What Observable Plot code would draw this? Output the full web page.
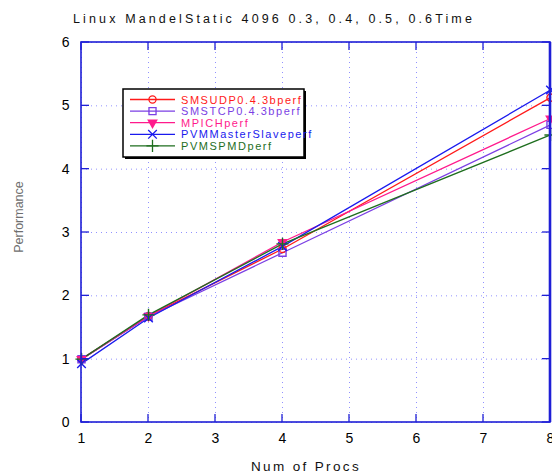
<!DOCTYPE html>
<html>
<head>
<meta charset="utf-8">
<script src="https://cdn.jsdelivr.net/npm/d3@7"></script>
<script src="https://cdn.jsdelivr.net/npm/@observablehq/plot@0.6"></script>
<style>
  html, body { margin: 0; padding: 0; background: #fff; }
  #chart { position: relative; width: 552px; height: 475px; }
</style>
</head>
<body>
<div id="chart"></div>
<script>
const titleText = "Linux MandelStatic 4096 0.3, 0.4, 0.5, 0.6Time";
const xLabel = "Num of Procs";
const yLabel = "Performance";

const procs = [1, 2, 4, 8];
const xTicks = [1, 2, 3, 4, 5, 6, 7, 8];
const yTicks = [0, 1, 2, 3, 4, 5, 6];

const seriesNames = ["SMSUDP0.4.3bperf", "SMSTCP0.4.3bperf", "MPICHperf", "PVMMasterSlaveperf", "PVMSPMDperf"];
const smsudp = [1.0, 1.68, 2.74, 5.13];
const smstcp = [1.0, 1.67, 2.68, 4.70];
const mpich = [1.0, 1.68, 2.85, 4.80];
const pvmms = [0.93, 1.65, 2.78, 5.25];
const pvmspmd = [1.0, 1.70, 2.82, 4.54];

const colors = ["#ff1a1a", "#7b3fe4", "#ff1a8c", "#1a1aee", "#1e6e1e"];
const symbols = ["circle", "square", "triangle", "times", "plus"];

const values = [smsudp, smstcp, mpich, pvmms, pvmspmd];
const data = [];
seriesNames.forEach((s, i) => procs.forEach((p, j) => data.push({series: s, idx: i, x: p, y: values[i][j]})));

const W = 552, H = 475;
const ML = 81, MR = 2, MT = 42, MB = 53;

const marks = [
  Plot.gridX(xTicks, {stroke: "#7777ff", strokeOpacity: 0.8, strokeDasharray: "1,4"}),
  Plot.gridY(yTicks, {stroke: "#7777ff", strokeOpacity: 0.8, strokeDasharray: "1,4"}),
  Plot.axisX(xTicks, {anchor: "bottom", tickSize: 0, tickPadding: 11, fontSize: 14, label: null, tickFormat: d => d}),
  Plot.axisY(yTicks, {anchor: "left", tickSize: 0, tickPadding: 12, fontSize: 14, label: null, tickFormat: d => d})
];

seriesNames.forEach((s, i) => {
  const d = data.filter(r => r.idx === i);
  marks.push(Plot.line(d, {x: "x", y: "y", stroke: colors[i], strokeWidth: 1.3}));
});
seriesNames.forEach((s, i) => {
  const d = data.filter(r => r.idx === i);
  const filled = i === 2;
  marks.push(Plot.dot(d, {
    x: "x", y: "y", symbol: symbols[i],
    r: i === 0 ? 3.6 : 4,
    stroke: filled ? "none" : colors[i],
    fill: filled ? colors[i] : "none",
    strokeWidth: 1.4,
    rotate: i === 2 ? 180 : 0
  }));
});

const plot = Plot.plot({
  width: W, height: H,
  marginLeft: ML, marginRight: MR, marginTop: MT, marginBottom: MB,
  style: {fontFamily: "'Liberation Sans', Arial, sans-serif", color: "#000", background: "#fff", overflow: "visible"},
  x: {type: "linear", domain: [1, 8], axis: null},
  y: {type: "linear", domain: [0, 6], axis: null},
  marks
});
document.getElementById("chart").appendChild(plot);

const svg = d3.select(plot);
const xs = d3.scaleLinear().domain([1, 8]).range([ML, W - MR]);
const ys = d3.scaleLinear().domain([0, 6]).range([H - MB, MT]);
const blue = "#1f1fd6";
const FONT = "'Liberation Sans', Arial, sans-serif";

// inward ticks on all four sides
const tg = svg.append("g").attr("stroke", blue).attr("stroke-width", 1.3);
xTicks.forEach(t => {
  tg.append("line").attr("x1", xs(t)).attr("x2", xs(t)).attr("y1", ys(0)).attr("y2", ys(0) - 8);
  tg.append("line").attr("x1", xs(t)).attr("x2", xs(t)).attr("y1", ys(6)).attr("y2", ys(6) + 8);
});
yTicks.forEach(t => {
  tg.append("line").attr("x1", xs(1)).attr("x2", xs(1) + 8).attr("y1", ys(t)).attr("y2", ys(t));
  tg.append("line").attr("x1", xs(8)).attr("x2", xs(8) - 8).attr("y1", ys(t)).attr("y2", ys(t));
});
svg.append("rect").attr("x", xs(1)).attr("y", ys(6)).attr("width", xs(8) - xs(1)).attr("height", ys(0) - ys(6))
  .attr("fill", "none").attr("stroke", blue).attr("stroke-width", 1.6);
svg.append("line").attr("x1", xs(8)).attr("x2", xs(8)).attr("y1", ys(6)).attr("y2", ys(0))
  .attr("stroke", blue).attr("stroke-width", 2.6);

function fitText(sel, target) {
  const n = sel.text().length;
  const w = sel.node().getComputedTextLength();
  sel.attr("letter-spacing", Math.max(0, (target - w) / n));
}

const tt = svg.append("text").attr("x", 73).attr("y", 23).attr("font-size", 12.5).attr("text-anchor", "start")
  .attr("font-family", FONT).attr("fill", "#111").text(titleText);
fitText(tt, 402);

const xl = svg.append("text").attr("x", 251).attr("y", 471).attr("font-size", 13.5).attr("text-anchor", "start")
  .attr("font-family", FONT).attr("fill", "#111").text(xLabel);
fitText(xl, 110);

svg.append("text").attr("transform", "translate(23,217) rotate(-90)").attr("text-anchor", "middle")
  .attr("font-size", 12.5).attr("font-family", FONT)
  .attr("fill", "#555").attr("opacity", 0.85).text(yLabel);

// legend
const lg = svg.append("g");
const LX = 123, LY = 89, LW = 181, LH = 68;
lg.append("rect").attr("x", LX + 2).attr("y", LY + 2).attr("width", LW).attr("height", LH).attr("fill", "#000");
lg.append("rect").attr("x", LX).attr("y", LY).attr("width", LW).attr("height", LH)
  .attr("fill", "#fff").attr("stroke", "#000").attr("stroke-width", 1.5);
const symMap = {circle: d3.symbolCircle, square: d3.symbolSquare, triangle: d3.symbolTriangle, times: d3.symbolTimes, plus: d3.symbolPlus};
seriesNames.forEach((s, i) => {
  const y = LY + 10.5 + i * 11.6;
  lg.append("line").attr("x1", 130).attr("x2", 175).attr("y1", y).attr("y2", y)
    .attr("stroke", colors[i]).attr("stroke-width", 1.3);
  const filled = i === 2;
  const size = i === 0 ? 40 : 50;
  lg.append("path").attr("d", d3.symbol(symMap[symbols[i]], size)())
    .attr("transform", `translate(152.5,${y})${i === 2 ? " rotate(180)" : ""}`)
    .attr("fill", filled ? colors[i] : "none").attr("stroke", filled ? "none" : colors[i]).attr("stroke-width", 1.3);
  lg.append("text").attr("x", 181).attr("y", y + 4).attr("font-size", 11).attr("text-anchor", "start")
    .attr("font-family", FONT).attr("fill", colors[i]).attr("letter-spacing", 1.55).text(s);
});
</script>
</body>
</html>
